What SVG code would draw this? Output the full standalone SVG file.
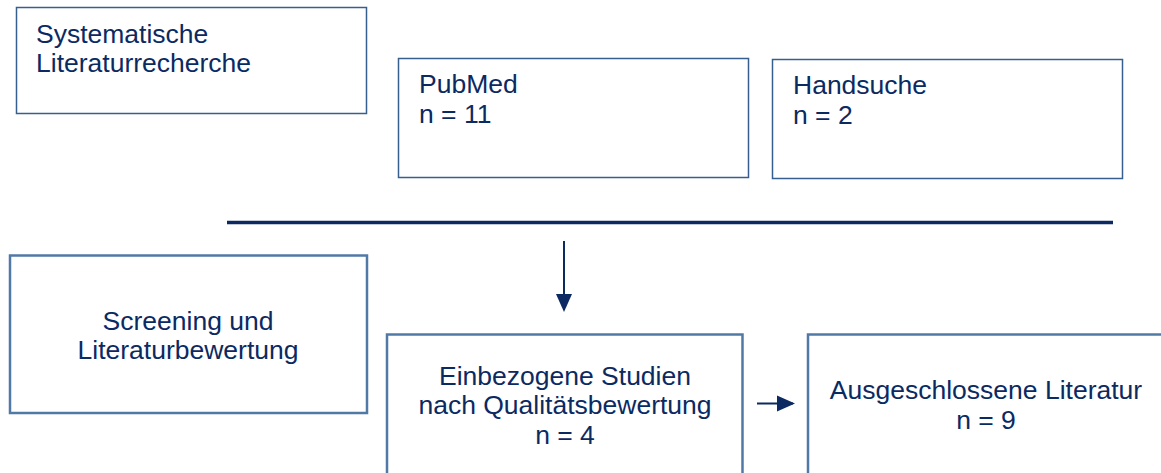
<svg xmlns="http://www.w3.org/2000/svg" width="1161" height="473" viewBox="0 0 1161 473">
<style>
.t{font-family:"Liberation Sans",Arial,sans-serif;font-size:26.5px;fill:#0b2a62}
.c{text-anchor:middle}
.b1{fill:#fff;stroke:#365f8e;stroke-width:1.5}
.b2{fill:#fff;stroke:#5079a6;stroke-width:2.5}
.ln{stroke:#0b2a62;fill:none}
</style>
<defs>
<marker id="ah" markerWidth="9" markerHeight="9" refX="8" refY="4.5" orient="auto" markerUnits="strokeWidth">
<path d="M0,0.5 L9,4.5 L0,8.5 Z" fill="#0b2a62"/>
</marker>
</defs>
<rect width="1161" height="473" fill="#fff"/>
<g id="n1"><rect class="b1" x="16.5" y="7.5" width="350" height="106"/>
<text class="t" x="36" y="43">Systematische</text><text class="t" x="36" y="72">Literaturrecherche</text></g>
<g id="n2"><rect class="b1" x="398.5" y="58.5" width="350" height="119"/>
<text class="t" x="419" y="93">PubMed</text><text class="t" x="419" y="123">n = 11</text></g>
<g id="n3"><rect class="b1" x="772.5" y="59.5" width="350" height="119"/>
<text class="t" x="793" y="94">Handsuche</text><text class="t" x="793" y="124">n = 2</text></g>
<g id="n4"><rect class="b2" x="10" y="255.5" width="357" height="157.5"/>
<text class="t c" x="188" y="330">Screening und</text><text class="t c" x="188" y="359">Literaturbewertung</text></g>
<g id="n5"><rect class="b2" x="387" y="334.5" width="355.5" height="150"/>
<text class="t c" x="565" y="385">Einbezogene Studien</text><text class="t c" x="565" y="414">nach Qualitätsbewertung</text><text class="t c" x="565" y="444">n = 4</text></g>
<g id="n6"><rect class="b2" x="808" y="334.5" width="370" height="150"/>
<text class="t c" x="986" y="399">Ausgeschlossene Literatur</text><text class="t c" x="986" y="429">n = 9</text></g>
<g id="connectors">
<line class="ln" x1="227" y1="222.5" x2="1113" y2="222.5" stroke-width="3.5"/>
<line class="ln" x1="564" y1="241" x2="564" y2="310" stroke-width="2" marker-end="url(#ah)"/>
<line class="ln" x1="757" y1="403.5" x2="793" y2="403.5" stroke-width="2" marker-end="url(#ah)"/>
</g>
</svg>
